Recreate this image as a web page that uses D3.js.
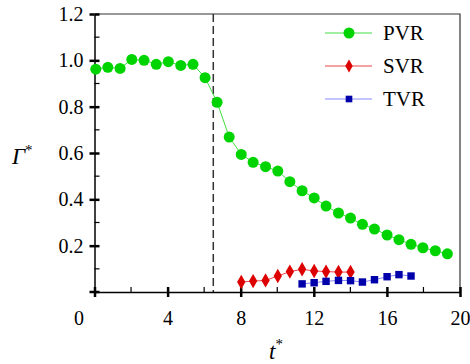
<!DOCTYPE html>
<html>
<head>
<meta charset="utf-8">
<script src="https://cdn.jsdelivr.net/npm/d3@7"></script>
<style>
  body { margin: 0; background: #fff; }
  svg { display: block; }
</style>
</head>
<body>
<svg id="chart" width="470" height="364"></svg>
<script>
// data
const pvrT = [0.07, 0.73, 1.40, 2.04, 2.71, 3.38, 4.04, 4.72, 5.39, 6.05, 6.71, 7.37, 8.03, 8.68, 9.36,
  10.03, 10.69, 11.36, 12.02, 12.67, 13.35, 14.01, 14.66, 15.32, 16.01, 16.66, 17.32, 17.97, 18.65, 19.31];
const pvrV = [0.962, 0.970, 0.965, 1.004, 1.000, 0.983, 0.994, 0.978, 0.983, 0.925, 0.819, 0.669, 0.594, 0.560, 0.541,
  0.522, 0.476, 0.437, 0.406, 0.371, 0.341, 0.319, 0.292, 0.272, 0.246, 0.226, 0.206, 0.191, 0.178, 0.165];
const svrT = [8.03, 8.68, 9.36, 10.03, 10.69, 11.36, 12.02, 12.67, 13.35, 14.01];
const svrV = [0.043, 0.047, 0.050, 0.069, 0.088, 0.098, 0.091, 0.088, 0.086, 0.086];
const tvrT = [11.36, 12.02, 12.67, 13.35, 14.01, 14.66, 15.32, 16.01, 16.66, 17.32];
const tvrV = [0.035, 0.040, 0.046, 0.050, 0.049, 0.043, 0.053, 0.066, 0.075, 0.069];
const xTicks = [0, 4, 8, 12, 16, 20];
const yTicks = [0.2, 0.4, 0.6, 0.8, 1.0, 1.2];
const dashT = 6.5;

const serif = '"Liberation Serif", "Times New Roman", serif';
const svg = d3.select("#chart");
const pL = 94.5, pR = 460, pT = 14, pB = 292;
const x = d3.scaleLinear().domain([0, 20]).range([pL, pR]);
const y = d3.scaleLinear().domain([0, 1.2]).range([pB, pT]);

// frame (top and right)
svg.append("path")
  .attr("d", `M${pL},${pT}H${pR}V${pB}`)
  .attr("fill", "none").attr("stroke", "#333").attr("stroke-width", 1.2);

// dashed line
svg.append("line")
  .attr("x1", x(dashT)).attr("x2", x(dashT))
  .attr("y1", pT).attr("y2", pB)
  .attr("stroke", "#333").attr("stroke-width", 1.5)
  .attr("stroke-dasharray", "8,4");

// minor ticks
const g = svg.append("g");
d3.range(2, 20, 4).forEach(t => {
  g.append("line").attr("x1", x(t)).attr("x2", x(t)).attr("y1", pB).attr("y2", pB - 5)
    .attr("stroke", "#000").attr("stroke-width", 1.2);
});
d3.range(0.1, 1.2, 0.2).forEach(v => {
  g.append("line").attr("x1", pL).attr("x2", pL + 5).attr("y1", y(v)).attr("y2", y(v))
    .attr("stroke", "#000").attr("stroke-width", 1.2);
});

// axes
const xAxis = svg.append("g").attr("transform", `translate(0,${pB})`)
  .call(d3.axisBottom(x).tickValues(xTicks).tickSize(5).tickPadding(14).tickSizeOuter(0)
    .tickFormat(d3.format("d")));
const yAxis = svg.append("g").attr("transform", `translate(${pL},0)`)
  .call(d3.axisLeft(y).tickValues(yTicks).tickSize(5).tickPadding(6).tickSizeOuter(0)
    .tickFormat(d3.format(".1f")));
[xAxis, yAxis].forEach(a => {
  a.select(".domain").attr("stroke", "#000").attr("stroke-width", 1.5);
  a.selectAll(".tick line").attr("stroke", "#000").attr("stroke-width", 2.5);
  a.selectAll(".tick text").attr("fill", "#000")
    .style("font-family", serif).style("font-size", "20px");
});
// inward halves of major ticks
xAxis.selectAll(".tick").append("line").attr("y1", 0).attr("y2", -5).attr("stroke", "#000").attr("stroke-width", 2.5);
yAxis.selectAll(".tick").append("line").attr("x1", 0).attr("x2", 5).attr("stroke", "#000").attr("stroke-width", 2.5);
yAxis.append("line").attr("x1", -5).attr("x2", 5).attr("y1", pB).attr("y2", pB)
  .attr("stroke", "#000").attr("stroke-width", 2.5);
xAxis.selectAll(".tick text").filter(d => d === 0).attr("dx", -16);

// axis titles
const gam = svg.append("text").attr("x", 12).attr("y", 164)
  .style("font-family", serif).style("font-size", "23px").style("font-style", "italic").text("Γ");
gam.append("tspan").style("font-style", "normal").style("font-size", "15px").attr("dy", -9).text("*");
const tt = svg.append("text").attr("x", 269).attr("y", 359)
  .style("font-family", serif).style("font-size", "23px").style("font-style", "italic").text("t");
tt.append("tspan").style("font-style", "normal").style("font-size", "15px").attr("dy", -10).text("*");

const series = [
  { name: "PVR", t: pvrT, v: pvrV, line: "#44dd44", fill: "#00d400", shape: d3.symbolCircle, size: 95 },
  { name: "SVR", t: svrT, v: svrV, line: "#ee4444", fill: "#dd0000", shape: d3.symbolDiamond, size: 60 },
  { name: "TVR", t: tvrT, v: tvrV, line: "#8888ff", fill: "#0000aa", shape: d3.symbolSquare, size: 55 }
];

const line = d3.line().x(d => x(d[0])).y(d => y(d[1]));
series.forEach(s => {
  const pts = s.t.map((t, i) => [t, s.v[i]]);
  svg.append("path").datum(pts).attr("d", line)
    .attr("fill", "none").attr("stroke", s.line).attr("stroke-width", 1);
  svg.append("g").selectAll("path").data(pts).join("path")
    .attr("transform", d => `translate(${x(d[0])},${y(d[1])})`)
    .attr("d", d3.symbol().type(s.shape).size(s.size))
    .attr("fill", s.fill);
});

// legend
const legend = svg.append("g");
series.forEach((s, i) => {
  const cy = 33 + i * 33;
  legend.append("line").attr("x1", 325).attr("x2", 372).attr("y1", cy).attr("y2", cy)
    .attr("stroke", s.line).attr("stroke-width", 1);
  legend.append("path").attr("transform", `translate(349,${cy})`)
    .attr("d", d3.symbol().type(s.shape).size(s.size * (i === 0 ? 1 : 0.8))).attr("fill", s.fill);
  legend.append("text").attr("x", 383).attr("y", cy + 7)
    .style("font-family", serif).style("font-size", "21px").text(s.name);
});
</script>
</body>
</html>
